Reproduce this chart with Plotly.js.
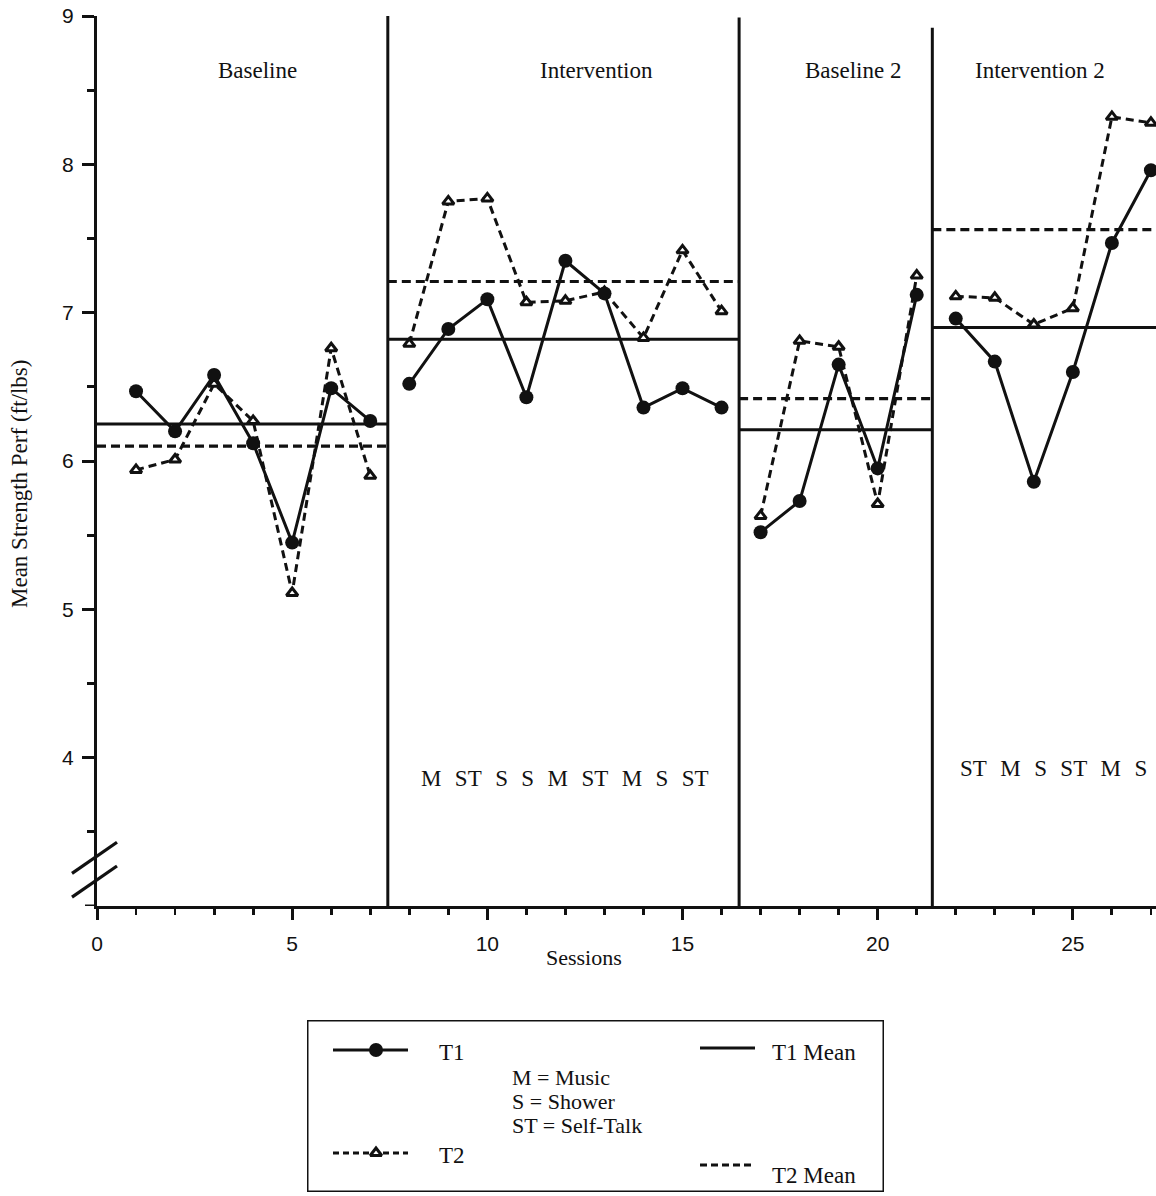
<!DOCTYPE html>
<html><head><meta charset="utf-8">
<script src="https://cdn.plot.ly/plotly-3.0.1.min.js"></script>
<style>html,body{margin:0;padding:0;background:#fff;} #chart{width:1156px;height:1196px;}</style>
</head><body><div id="chart"></div>
<script>
// ---------- data ----------
const phaseNames = ['Baseline', 'Intervention', 'Baseline 2', 'Intervention 2'];
const baselineSessions = [1, 2, 3, 4, 5, 6, 7];
const interventionSessions = [8, 9, 10, 11, 12, 13, 14, 15, 16];
const baseline2Sessions = [17, 18, 19, 20, 21];
const intervention2Sessions = [22, 23, 24, 25, 26, 27];

const t1Baseline = [6.47, 6.20, 6.58, 6.12, 5.45, 6.49, 6.27];
const t2Baseline = [5.94, 6.01, 6.52, 6.27, 5.11, 6.76, 5.90];
const t1Intervention = [6.52, 6.89, 7.09, 6.43, 7.35, 7.13, 6.36, 6.49, 6.36];
const t2Intervention = [6.79, 7.75, 7.77, 7.07, 7.08, 7.14, 6.83, 7.42, 7.01];
const t1Baseline2 = [5.52, 5.73, 6.65, 5.95, 7.12];
const t2Baseline2 = [5.63, 6.81, 6.77, 5.71, 7.25];
const t1Intervention2 = [6.96, 6.67, 5.86, 6.60, 7.47, 7.96];
const t2Intervention2 = [7.11, 7.10, 6.92, 7.03, 8.32, 8.28];

const t1Means = [6.25, 6.82, 6.21, 6.90];
const t2Means = [6.10, 7.21, 6.42, 7.56];
const phaseBounds = [0, 7.45, 16.45, 21.4, 27.13];

const conditionsIntervention = ['M', 'ST', 'S', 'S', 'M', 'ST', 'M', 'S', 'ST'];
const conditionsIntervention2 = ['ST', 'M', 'S', 'ST', 'M', 'S'];
const legendCodes = ['M = Music', 'S = Shower', 'ST = Self-Talk'];
const seriesNames = ['T1', 'T2', 'T1 Mean', 'T2 Mean'];

const xTickVals = [0, 5, 10, 15, 20, 25];
const yTickVals = [4, 5, 6, 7, 8, 9];
const yMinorVals = [3.5, 4.5, 5.5, 6.5, 7.5, 8.5];

// ---------- style ----------
const SERIF = 'Liberation Serif, Times New Roman, serif';
const SANS = 'Liberation Sans, Arial, sans-serif';
const BLACK = '#111';
const LW = 3;
const T1_LINE = {color: BLACK, width: LW};
const T2_LINE = {color: BLACK, width: LW, dash: '8px,5px'};
const T1_MARK = {symbol: 'circle', size: 14, color: BLACK};
const T2_MARK = {symbol: 'triangle-up', size: 10, color: '#fff', line: {color: BLACK, width: 3}};

const sessionsByPhase = [baselineSessions, interventionSessions, baseline2Sessions, intervention2Sessions];
const t1ByPhase = [t1Baseline, t1Intervention, t1Baseline2, t1Intervention2];
const t2ByPhase = [t2Baseline, t2Intervention, t2Baseline2, t2Intervention2];

const traces = [];
for (let i = 0; i < 4; i++) {
  traces.push({x: [phaseBounds[i], phaseBounds[i + 1]], y: [t1Means[i], t1Means[i]], mode: 'lines',
    line: {color: BLACK, width: LW}, showlegend: false, hoverinfo: 'skip'});
  traces.push({x: [phaseBounds[i], phaseBounds[i + 1]], y: [t2Means[i], t2Means[i]], mode: 'lines',
    line: {color: BLACK, width: 3.2, dash: '9px,5px'}, showlegend: false, hoverinfo: 'skip'});
}
for (let i = 0; i < 4; i++) {
  traces.push({x: sessionsByPhase[i], y: t2ByPhase[i], mode: 'lines+markers', name: 'T2',
    line: T2_LINE, marker: T2_MARK, showlegend: false});
  traces.push({x: sessionsByPhase[i], y: t1ByPhase[i], mode: 'lines+markers', name: 'T1',
    line: T1_LINE, marker: T1_MARK, showlegend: false});
}

// ---------- legend (drawn in a pixel-based secondary axis) ----------
const L = {x0: 307, x1: 884, y0: 1020, y1: 1192};
traces.push({x: [333, 408], y: [1050, 1050], xaxis: 'x2', yaxis: 'y2', mode: 'lines', line: T1_LINE, showlegend: false, hoverinfo: 'skip'});
traces.push({x: [376], y: [1050], xaxis: 'x2', yaxis: 'y2', mode: 'markers', marker: T1_MARK, showlegend: false, hoverinfo: 'skip'});
traces.push({x: [333, 408], y: [1153, 1153], xaxis: 'x2', yaxis: 'y2', mode: 'lines', line: {color: BLACK, width: LW, dash: '6px,4px'}, showlegend: false, hoverinfo: 'skip'});
traces.push({x: [376], y: [1153], xaxis: 'x2', yaxis: 'y2', mode: 'markers', marker: T2_MARK, showlegend: false, hoverinfo: 'skip'});
traces.push({x: [700, 755], y: [1048, 1048], xaxis: 'x2', yaxis: 'y2', mode: 'lines', line: {color: BLACK, width: LW}, showlegend: false, hoverinfo: 'skip'});
traces.push({x: [700, 754], y: [1165, 1165], xaxis: 'x2', yaxis: 'y2', mode: 'lines', line: {color: BLACK, width: 3.2, dash: '7px,4px'}, showlegend: false, hoverinfo: 'skip'});

const W = 1156, H = 1196, ML = 97, MT = 16;
const plotBottomPx = 906;
const paperH = H - MT;
const pyToPaper = py => (H - py) / paperH;
const pxToPaper = px => (px - ML) / (W - ML);

const FS = 23;
const txtFont = {family: SERIF, size: FS, color: BLACK};
const legFont = {family: SERIF, size: 22, color: BLACK};
const annotations = [];
const phaseLabelX = [4.1, 12.79, 19.37, 24.16];
phaseNames.forEach((n, i) => annotations.push({x: phaseLabelX[i], y: 8.63, xref: 'x', yref: 'y', text: n,
  showarrow: false, xanchor: 'center', yanchor: 'middle', font: txtFont}));
const nb = '\u00a0\u00a0\u200a';
annotations.push({x: 12.0, y: 3.86, xref: 'x', yref: 'y', text: conditionsIntervention.join(nb), showarrow: false,
  xanchor: 'center', yanchor: 'middle', font: txtFont});
annotations.push({x: 24.51, y: 3.93, xref: 'x', yref: 'y', text: conditionsIntervention2.join(nb), showarrow: false,
  xanchor: 'center', yanchor: 'middle', font: txtFont});
annotations.push({x: 12.48, y: pyToPaper(957), xref: 'x', yref: 'paper', text: 'Sessions', showarrow: false,
  xanchor: 'center', yanchor: 'middle', font: {family: SERIF, size: 22, color: BLACK}});
annotations.push({x: pxToPaper(20), y: pyToPaper(484), xref: 'paper', yref: 'paper', text: 'Mean Strength Perf (ft/lbs)',
  textangle: -90, showarrow: false, xanchor: 'center', yanchor: 'middle', font: {family: SERIF, size: 23, color: BLACK}});
// legend texts
annotations.push({x: 437, y: 1052, xref: 'x2', yref: 'y2', text: seriesNames[0], xanchor: 'left', yanchor: 'middle', showarrow: false, font: txtFont});
annotations.push({x: 437, y: 1155, xref: 'x2', yref: 'y2', text: seriesNames[1], xanchor: 'left', yanchor: 'middle', showarrow: false, font: txtFont});
annotations.push({x: 770, y: 1052, xref: 'x2', yref: 'y2', text: seriesNames[2], xanchor: 'left', yanchor: 'middle', showarrow: false, font: txtFont});
annotations.push({x: 770, y: 1175, xref: 'x2', yref: 'y2', text: seriesNames[3], xanchor: 'left', yanchor: 'middle', showarrow: false, font: txtFont});
legendCodes.forEach((t, i) => annotations.push({x: 510, y: 1077 + i * 24, xref: 'x2', yref: 'y2', text: t,
  xanchor: 'left', yanchor: 'middle', showarrow: false, font: legFont}));

const shapes = [];
const phaseTops = [9, 8.99, 8.92];
for (let i = 1; i <= 3; i++) {
  shapes.push({type: 'line', xref: 'x', yref: 'y', x0: phaseBounds[i], x1: phaseBounds[i], y0: 3, y1: phaseTops[i - 1],
    line: {color: BLACK, width: LW}});
}
shapes.push({type: 'line', xref: 'paper', yref: 'y', x0: pxToPaper(72), x1: pxToPaper(117), y0: 3.22, y1: 3.43, line: {color: BLACK, width: 3.2}});
shapes.push({type: 'line', xref: 'paper', yref: 'y', x0: pxToPaper(72), x1: pxToPaper(117), y0: 3.06, y1: 3.27, line: {color: BLACK, width: 3.2}});
shapes.push({type: 'line', xref: 'paper', yref: 'y', x0: pxToPaper(85), x1: 0, y0: 3, y1: 3, line: {color: BLACK, width: LW}});
shapes.push({type: 'rect', xref: 'x2', yref: 'y2', x0: L.x0, x1: L.x1, y0: L.y0, y1: L.y1, line: {color: BLACK, width: LW}});

const layout = {
  width: W, height: H,
  margin: {l: ML, r: 0, t: MT, b: 0},
  paper_bgcolor: '#fff', plot_bgcolor: '#fff',
  showlegend: false,
  xaxis: {range: [0, 27.13], anchor: 'y', domain: [0, 1], tickmode: 'array', tickvals: xTickVals,
    ticks: 'outside', ticklen: 11, tickwidth: LW, tickcolor: BLACK,
    minor: {tickmode: 'linear', tick0: 0, dtick: 1, ticks: 'outside', ticklen: 6, tickwidth: 2.8, tickcolor: BLACK},
    showline: true, linecolor: BLACK, linewidth: LW, showgrid: false, zeroline: false,
    tickfont: {family: SANS, size: 21, color: BLACK}, ticklabelstandoff: 6, fixedrange: true},
  yaxis: {range: [3, 9], domain: [pyToPaper(plotBottomPx), 1], anchor: 'x', tickmode: 'array', tickvals: yTickVals,
    ticks: 'outside', ticklen: 12, tickwidth: LW, tickcolor: BLACK,
    minor: {tickmode: 'array', tickvals: yMinorVals, ticks: 'outside', ticklen: 7, tickwidth: 2.8, tickcolor: BLACK},
    showline: true, linecolor: BLACK, linewidth: LW, showgrid: false, zeroline: false,
    tickfont: {family: SANS, size: 21, color: BLACK}, ticklabelstandoff: 4, fixedrange: true},
  xaxis2: {domain: [pxToPaper(L.x0), pxToPaper(L.x1)], range: [L.x0, L.x1], anchor: 'y2', visible: false, fixedrange: true},
  yaxis2: {domain: [pyToPaper(L.y1), pyToPaper(L.y0)], range: [L.y1, L.y0], anchor: 'x2', visible: false, fixedrange: true},
  annotations: annotations,
  shapes: shapes
};

Plotly.newPlot('chart', traces, layout, {displayModeBar: false, staticPlot: true});
</script>
</body></html>
